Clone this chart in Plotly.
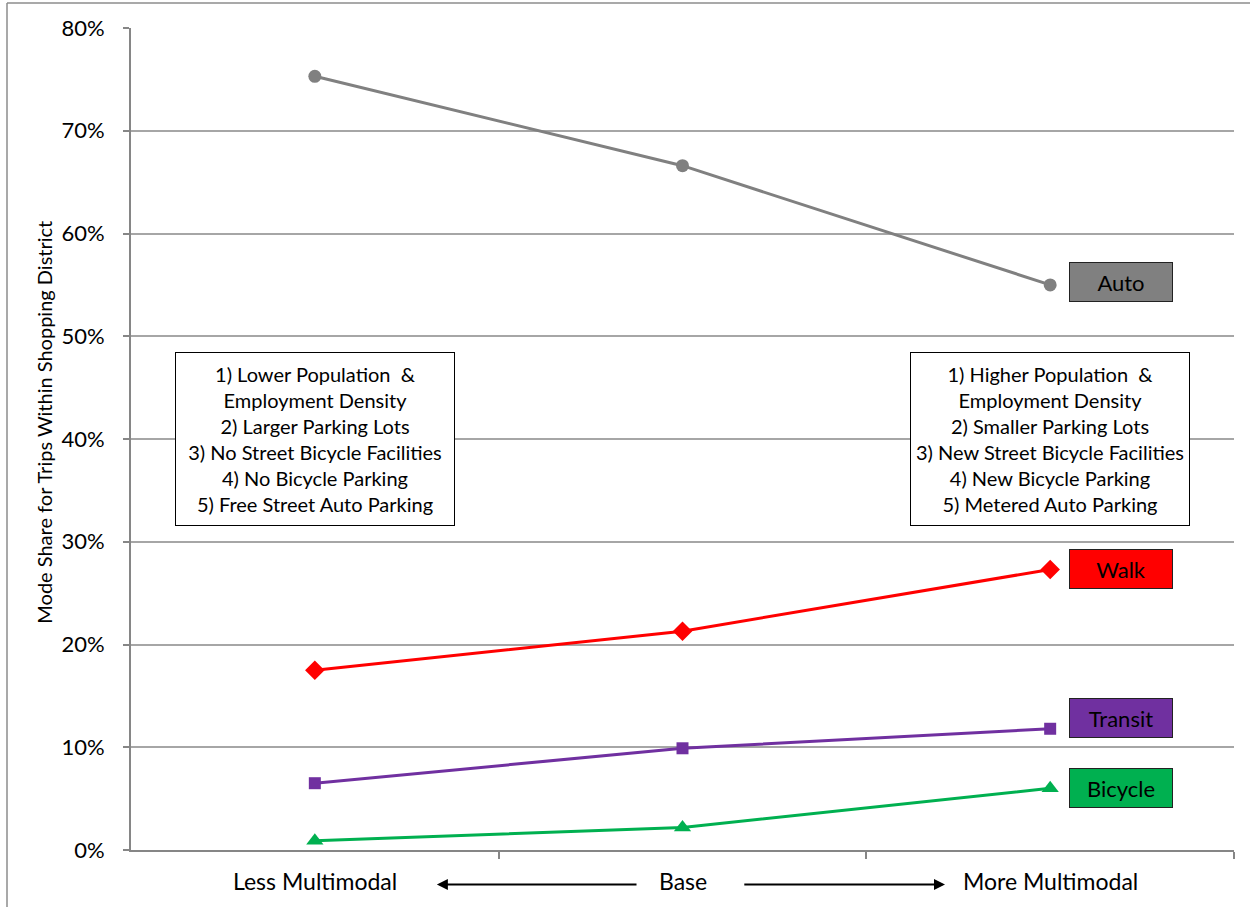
import plotly.graph_objects as go

# Scenario categories along the x axis
scenarios = ["Less Multimodal", "Base", "More Multimodal"]

# Mode share (fraction of trips within the shopping district)
auto_share = [0.753, 0.666, 0.550]
walk_share = [0.175, 0.213, 0.273]
transit_share = [0.065, 0.099, 0.118]
bicycle_share = [0.009, 0.022, 0.060]

mode_names = ["Auto", "Walk", "Transit", "Bicycle"]

y_tick_values = [0, 0.1, 0.2, 0.3, 0.4, 0.5, 0.6, 0.7, 0.8]

less_notes = [
    "1) Lower Population  &",
    "Employment Density",
    "2) Larger Parking Lots",
    "3) No Street Bicycle Facilities",
    "4) No Bicycle Parking",
    "5) Free Street Auto Parking",
]
more_notes = [
    "1) Higher Population  &",
    "Employment Density",
    "2) Smaller Parking Lots",
    "3) New Street Bicycle Facilities",
    "4) New Bicycle Parking",
    "5) Metered Auto Parking",
]

FONT = "Lato"

series = [
    (auto_share, "#808080", "circle", 13, 3),
    (walk_share, "#ff0000", "diamond", 15, 0),
    (transit_share, "#7030a0", "square", 12, 11),
    (bicycle_share, "#00b050", "triangle-up", 15, 0),
]

xpos = list(range(len(scenarios)))

fig = go.Figure()
for name, (vals, color, symbol, msize, _) in zip(mode_names, series):
    fig.add_trace(go.Scatter(
        x=xpos, y=vals, mode="lines+markers", name=name,
        line=dict(color=color, width=3),
        marker=dict(symbol=symbol, size=msize, color=color),
        showlegend=False,
    ))

annotations = []

# Coloured mode labels next to the last point of each series
for name, (vals, color, symbol, msize, yshift) in zip(mode_names, series):
    annotations.append(dict(
        x=xpos[-1], y=vals[-1], xref="x", yref="y",
        text=name, showarrow=False, xshift=71, yshift=yshift,
        font=dict(family=FONT, size=22, color="black"),
        bgcolor=color, bordercolor="#222222", borderwidth=1,
        width=100, height=36,
    ))

# Scenario description boxes
for xi, notes in ((xpos[0], less_notes), (xpos[-1], more_notes)):
    annotations.append(dict(
        x=xi, y=0.40, xref="x", yref="y",
        text="<br>".join(notes), showarrow=False,
        font=dict(family=FONT, size=20, color="black"),
        align="center", bgcolor="white", bordercolor="black", borderwidth=1,
        width=276, height=170, valign="middle",
    ))

# Category labels under the axis
for xi, label in zip(xpos, scenarios):
    annotations.append(dict(
        x=xi, y=-0.038, xref="x", yref="paper", text=label,
        showarrow=False, yanchor="middle",
        font=dict(family=FONT, size=23, color="black"),
    ))

# Arrows between the category labels
for tail, head in ((0.879, 0.332), (1.164, 1.714)):
    annotations.append(dict(
        x=head, y=-0.042, xref="x", yref="paper",
        ax=tail, ay=0, axref="x", ayref="pixel",
        text="", showarrow=True, arrowhead=2, arrowsize=1.0,
        arrowwidth=2.2, arrowcolor="black",
    ))

# Y axis title
annotations.append(dict(
    x=-0.0916, y=0.521, xref="paper", yref="paper",
    text="Mode Share for Trips Within Shopping District",
    textangle=-90, showarrow=False,
    font=dict(family=FONT, size=20, color="black"),
))

shapes = [
    # frame lines along the top and left edges
    dict(type="line", xref="paper", yref="paper",
         x0=(7 - 131) / 1103, x1=(1250 - 131) / 1103, y0=1 + 25 / 822, y1=1 + 25 / 822,
         line=dict(color="#8c8c8c", width=1.5)),
    dict(type="line", xref="paper", yref="paper",
         x0=(7 - 131) / 1103, x1=(7 - 131) / 1103, y0=1 + 25 / 822, y1=-57 / 822,
         line=dict(color="#8c8c8c", width=1.5)),
]

fig.update_layout(
    width=1250, height=907,
    margin=dict(l=131, r=16, t=28, b=57),
    paper_bgcolor="white", plot_bgcolor="white",
    font=dict(family=FONT, size=19, color="black"),
    annotations=annotations, shapes=shapes,
)
fig.update_xaxes(
    range=[-0.5, 2.5], tickmode="array",
    tickvals=[0.5, 1.5, 2.5], ticktext=["", "", ""],
    ticks="outside", ticklen=7, tickcolor="#868686", tickwidth=1.5,
    showgrid=False, zeroline=False,
    showline=True, linecolor="#868686", linewidth=2,
)
fig.update_yaxes(
    range=[0, 0.8], tickvals=y_tick_values, tickformat=".0%",
    ticks="outside", ticklen=6, tickcolor="#868686", tickwidth=1.5,
    ticklabelstandoff=14,
    showgrid=True, gridcolor="#a6a6a6", gridwidth=1.5,
    zeroline=False, showline=True, linecolor="#868686", linewidth=2,
    tickfont=dict(family=FONT, size=22),
)

fig.write_html("out.html")
